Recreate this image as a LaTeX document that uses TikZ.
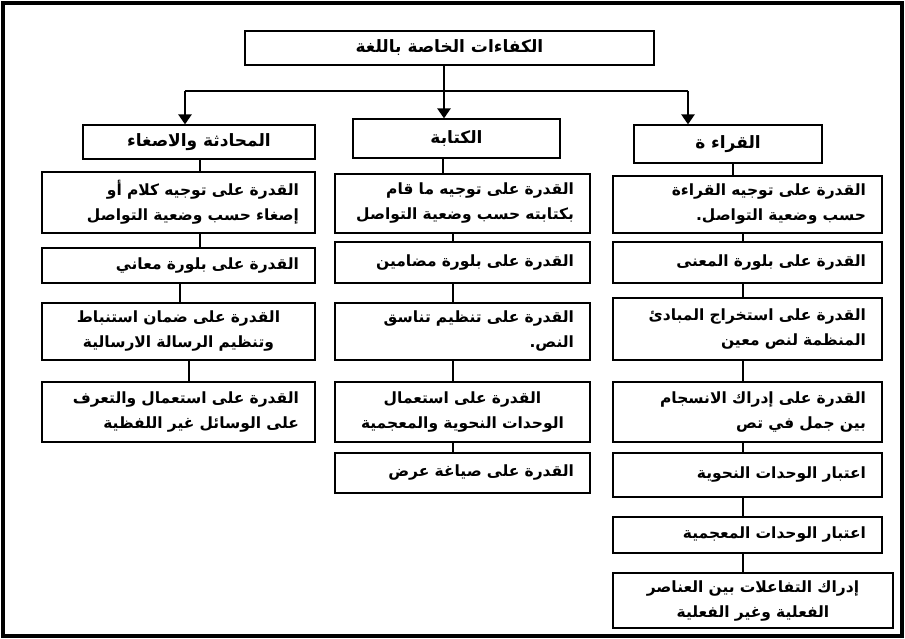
\documentclass[tikz,border=0pt]{standalone}
\usepackage{fontspec}
\newfontfamily\arabicfont[Script=Arabic]{DejaVu Sans}
\TeXXeTstate=1
\usepackage{tikz}
\usetikzlibrary{arrows.meta}
\newcommand{\artxt}[1]{\beginR #1\endR}
\tikzset{
  frame/.style={line width=3.5pt},
  cell/.style={draw, line width=1.2pt, inner xsep=16pt, inner ysep=2pt, align=right,
    font=\arabicfont\bfseries\fontsize{15.5}{25}\selectfont},
  head/.style={cell, align=center, font=\arabicfont\bfseries\fontsize{17}{25}\selectfont},
  lcol/.style={cell, text width=241pt},
  mcol/.style={cell, text width=223pt},
  rcol/.style={cell, text width=237pt},
  link/.style={line width=1.2pt},
  arrow/.style={line width=2.4pt, -{Triangle[width=13pt,length=10pt]}}
}

\begin{document}
\begin{tikzpicture}[x=1pt, y=-1pt]
    \useasboundingbox (0,0) rectangle (905,639);
    % cadre
    \draw[frame] (3,3) rectangle (902,636);
    % titre et trois domaines
    \node[head, minimum width=409pt, minimum height=34pt] (top) at (449.5,48) {\artxt{الكفاءات الخاصة باللغة}};
    \node[head, minimum width=232pt, minimum height=34pt] (h1) at (199,142) {\artxt{المحادثة والاصغاء}};
    \node[head, minimum width=207pt, minimum height=39pt] (h2) at (456.5,138.5) {\artxt{الكتابة}};
    \node[head, minimum width=188pt, minimum height=38pt] (h3) at (728,144) {\artxt{القراء ة}};
    % colonne gauche
    \node[lcol, minimum height=61pt] (L1) at (178.5,202.5) {\artxt{القدرة على توجيه كلام أو}\\\artxt{إصغاء حسب وضعية التواصل}};
    \node[lcol, minimum height=35pt] (L2) at (178.5,265.5) {\artxt{القدرة على بلورة معاني}};
    \node[lcol, align=center, minimum height=57pt] (L3) at (178.5,331.5) {\artxt{القدرة على ضمان استنباط}\\\artxt{وتنظيم الرسالة الارسالية}};
    \node[lcol, minimum height=60pt] (L4) at (178.5,412) {\artxt{القدرة على استعمال والتعرف}\\\artxt{على الوسائل غير اللفظية}};
    % colonne milieu
    \node[mcol, minimum height=59pt] (M1) at (462.5,203.5) {\artxt{القدرة على توجيه ما قام}\\\artxt{بكتابته حسب وضعية التواصل}};
    \node[mcol, minimum height=41pt] (M2) at (462.5,262.5) {\artxt{القدرة على بلورة مضامين}};
    \node[mcol, minimum height=57pt] (M3) at (462.5,331.5) {\artxt{القدرة على تنظيم تناسق}\\\artxt{النص.}};
    \node[mcol, align=center, minimum height=60pt] (M4) at (462.5,412) {\artxt{القدرة على استعمال}\\\artxt{الوحدات النحوية والمعجمية}};
    \node[mcol, minimum height=40pt] (M5) at (462.5,473) {\artxt{القدرة على صياغة عرض}};
    % colonne droite
    \node[rcol, minimum height=57pt] (R1) at (747.5,204.5) {\artxt{القدرة على توجيه القراءة}\\\artxt{حسب وضعية التواصل.}};
    \node[rcol, minimum height=41pt] (R2) at (747.5,262.5) {\artxt{القدرة على بلورة المعنى}};
    \node[rcol, minimum height=62pt] (R3) at (747.5,329) {\artxt{القدرة على استخراج المبادئ}\\\artxt{المنظمة لنص معين}};
    \node[rcol, minimum height=60pt] (R4) at (747.5,412) {\artxt{القدرة على إدراك الانسجام}\\\artxt{بين جمل في تص}};
    \node[rcol, minimum height=44pt] (R5) at (747.5,475) {\artxt{اعتبار الوحدات النحوية}};
    \node[rcol, minimum height=36pt] (R6) at (747.5,535) {\artxt{اعتبار الوحدات المعجمية}};
    \node[rcol, align=center, text width=248pt, minimum height=55pt] (R7) at (753,600.5) {\artxt{إدراك التفاعلات بين العناصر}\\\artxt{الفعلية وغير الفعلية}};
    % branchement
    \coordinate (jL) at (185,91);
    \coordinate (jM) at (444,91);
    \coordinate (jR) at (688,91);
    \draw[link] ([xshift=-5.5pt]top.south) -- (jM);
    \draw[link] (jL) -- (jR);
    \foreach \j/\h in {jL/h1, jM/h2, jR/h3}
        \draw[arrow] (\j) -- (\j |- \h.north);
    % liaisons verticales
    \foreach \a/\b/\d in {h1/L1/1, L1/L2/21.5, L2/L3/1.5, L3/L4/10.5,
                          h2/M1/-13.5, M1/M2/-9.5, M2/M3/-9.5, M3/M4/-9.5, M4/M5/-9.5,
                          h3/R1/5, R1/R2/-4.5, R2/R3/-4.5, R3/R4/-4.5, R4/R5/-4.5, R5/R6/-4.5, R6/R7/-4.5}
        \draw[link] ([xshift=\d pt]\a.south) -- ([xshift=\d pt]\a.south |- \b.north);
\end{tikzpicture}
\end{document}
